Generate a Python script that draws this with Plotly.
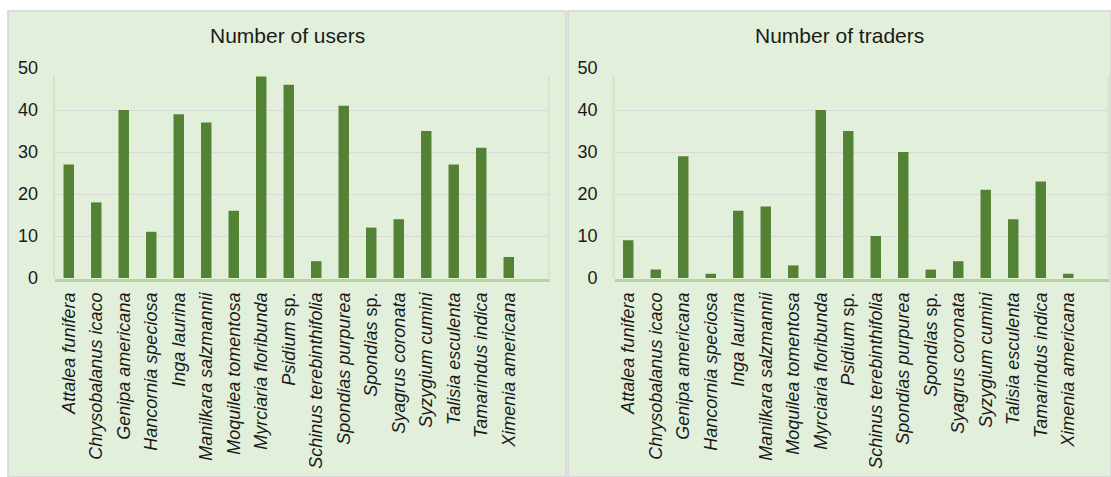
import plotly.graph_objects as go

W, H = 1111, 477

species = ["Attalea funifera", "Chrysobalanus icaco", "Genipa americana", "Hancornia speciosa",
           "Inga laurina", "Manilkara salzmannii", "Moquilea tomentosa", "Myrciaria floribunda",
           "Psidium sp.", "Schinus terebinthifolia", "Spondias purpurea", "Spondias sp.",
           "Syagrus coronata", "Syzygium cumini", "Talisia esculenta", "Tamarindus indica",
           "Ximenia americana"]
users = [27, 18, 40, 11, 39, 37, 16, 48, 46, 4, 41, 12, 14, 35, 27, 31, 5]
traders = [9, 2, 29, 1, 16, 17, 3, 40, 35, 10, 30, 2, 4, 21, 14, 23, 1]
titles = ["Number of users", "Number of traders"]
y_ticks = [0, 10, 20, 30, 40, 50]


def label(s):
    if s.endswith(" sp."):
        return "<i>" + s[:-4] + "</i> sp."
    return "<i>" + s + "</i>"


tick_text = [label(s) for s in species]

BAR = "#548235"
PANEL = "#e2efda"
FONT = "Liberation Sans, Arial, sans-serif"

fig = go.Figure()

def px_x(x):
    return x / W

def px_y(y):
    return 1 - y / H

plots = [(55, 550), (614.5, 1109.5)]
y_top, y_bot = 68, 278

for i, vals in enumerate([users, traders]):
    xa = "x" if i == 0 else "x2"
    ya = "y" if i == 0 else "y2"
    fig.add_trace(go.Bar(x=species, y=vals, marker=dict(color=BAR, line=dict(width=0)),
                         width=0.38, xaxis=xa, yaxis=ya, showlegend=False,
                         hoverinfo="x+y"))

common_x = dict(type="category", categoryorder="array", categoryarray=species,
                range=[-0.5, 17.5], tickmode="array", tickvals=species, ticktext=tick_text,
                tickangle=-90, tickfont=dict(family=FONT, size=18, color="#1a1a1a"),
                showgrid=False, zeroline=False, showline=False, ticks="",
                ticklabelstandoff=10, automargin=False, fixedrange=True)
common_y = dict(range=[0, 50], tickvals=y_ticks, showgrid=True, gridcolor="#d9d9d9",
                gridwidth=1, zeroline=False, showline=False, ticks="",
                tickfont=dict(family=FONT, size=18, color="#1a1a1a"),
                ticklabelstandoff=16, automargin=False,
                domain=[px_y(y_bot), px_y(y_top)], fixedrange=True)

fig.update_layout(
    width=W, height=H, margin=dict(l=0, r=0, t=0, b=0, pad=0, autoexpand=False),
    paper_bgcolor="white", plot_bgcolor="rgba(0,0,0,0)",
    bargap=0.62,
    xaxis=dict(common_x, domain=[px_x(plots[0][0]), px_x(plots[0][1])], anchor="y"),
    yaxis=dict(common_y, anchor="x"),
    xaxis2=dict(common_x, domain=[px_x(plots[1][0]), px_x(plots[1][1])], anchor="y2"),
    yaxis2=dict(common_y, anchor="x2"),
)

shapes = []
for (x0, x1) in [(8, 566), (568, 1111)]:
    shapes.append(dict(type="rect", xref="paper", yref="paper", x0=px_x(x0), x1=px_x(x1),
                       y0=px_y(477), y1=px_y(11), fillcolor=PANEL,
                       line=dict(color="#d4d4d4", width=1.5), layer="below"))
for (x0, x1) in plots:
    shapes.append(dict(type="line", xref="paper", yref="paper", x0=px_x(x0), x1=px_x(x1),
                       y0=px_y(y_bot + 2.5), y1=px_y(y_bot + 2.5),
                       line=dict(color="#b3d69b", width=3), layer="below"))
    shapes.append(dict(type="line", xref="paper", yref="paper", x0=px_x(x0 - 1), x1=px_x(x0 - 1),
                       y0=px_y(y_bot), y1=px_y(y_top + 8),
                       line=dict(color="#cfe6bf", width=2), layer="below"))
    shapes.append(dict(type="line", xref="paper", yref="paper", x0=px_x(x1 - 1), x1=px_x(x1 - 1),
                       y0=px_y(y_bot), y1=px_y(y_top + 8),
                       line=dict(color="#d3e8c5", width=2), layer="below"))
fig.update_layout(shapes=shapes)

annotations = []
for (x0, x1), title in zip([(8, 566), (568, 1111)], titles):
    annotations.append(dict(text=title, xref="paper", yref="paper", x=px_x((x0 + x1) / 2),
                            y=px_y(36), xanchor="center", yanchor="middle", showarrow=False,
                            font=dict(family=FONT, size=21, color="#1a1a1a")))
fig.update_layout(annotations=annotations)

fig.write_html("out.html")
